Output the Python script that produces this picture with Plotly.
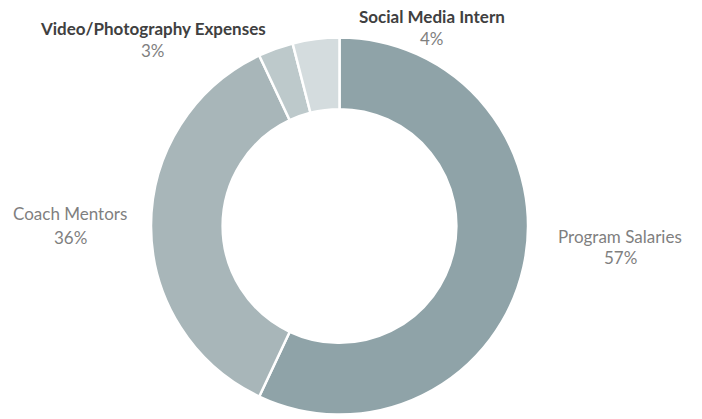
import plotly.graph_objects as go

categories = ["Program Salaries", "Coach Mentors", "Video/Photography Expenses", "Social Media Intern"]
values = [57, 36, 3, 4]
colors = ["#8fa3a8", "#a8b6b9", "#bdc9cb", "#d4dcde"]
bold_name = [False, False, True, True]
# label anchor positions in pixels: (x center, name y, percent y)
label_pos = [(620, 236, 257), (70, 214, 237), (153, 29, 50), (432, 17, 38)]

W, H = 702, 419
cx, cy, r = 339.5, 226, 188.5

fig = go.Figure(go.Pie(
    labels=categories,
    values=values,
    sort=False,
    direction="clockwise",
    rotation=0,
    hole=0.62,
    marker=dict(colors=colors, line=dict(color="white", width=2.5)),
    textinfo="none",
    hoverinfo="label+percent",
    domain=dict(x=[(cx - r) / W, (cx + r) / W], y=[(H - cy - r) / H, (H - cy + r) / H]),
))

total = sum(values)
for name, v, b, (px, ny, py) in zip(categories, values, bold_name, label_pos):
    pct = f"{round(100 * v / total)}%"
    name_txt = f"<b>{name}</b>" if b else name
    fig.add_annotation(
        x=px / W, y=1 - ny / H, xref="paper", yref="paper",
        text=name_txt, showarrow=False, xanchor="center", yanchor="middle",
        font=dict(family="Lato", size=17, color="#404040" if b else "#7f7f7f"),
    )
    fig.add_annotation(
        x=px / W, y=1 - py / H, xref="paper", yref="paper",
        text=pct, showarrow=False, xanchor="center", yanchor="middle",
        font=dict(family="Lato", size=17, color="#7f7f7f"),
    )

fig.update_layout(
    width=W, height=H,
    margin=dict(l=0, r=0, t=0, b=0),
    paper_bgcolor="white",
    plot_bgcolor="white",
    showlegend=False,
)

fig.write_html("out.html", config={"displayModeBar": False},
               post_script="document.body.style.margin='0';")
